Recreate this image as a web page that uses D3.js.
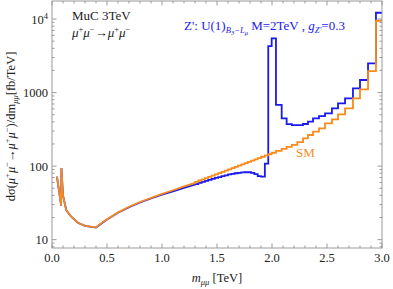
<!DOCTYPE html>
<html>
<head>
<meta charset="utf-8">
<script src="https://cdn.jsdelivr.net/npm/d3@7"></script>
<style>
  html, body { margin: 0; padding: 0; background: #fff; }
  svg { display: block; font-family: "Liberation Serif", "DejaVu Serif", serif; }
</style>
</head>
<body>
<svg id="chart" width="393" height="289"></svg>
<script>
// smooth low-mass part [TeV], dσ/dm [fb/TeV]
const smoothM = [0.045, 0.083, 0.086, 0.1, 0.13, 0.175, 0.235, 0.3, 0.4, 0.45, 0.5, 0.6, 0.7, 0.8, 0.9, 1.0, 1.1, 1.2, 1.3];
const smSmooth = [72, 29, 94, 40, 25, 20.5, 17, 15.4, 14.7, 16.8, 19, 23.5, 28, 32.5, 37, 42, 47, 53, 59];
const zpSmooth = [72, 29, 94, 40, 25, 20.5, 17, 15.4, 14.6, 16.6, 18.8, 23.2, 27.6, 32, 36.3, 41, 45.5, 50.5, 56];

// histogram bin edges (stepped part)
const binEdges = [1.30, 1.33, 1.36, 1.39, 1.42, 1.45, 1.48, 1.51, 1.54, 1.57, 1.60, 1.63, 1.66, 1.69,
  1.72, 1.75, 1.78, 1.81, 1.84, 1.87, 1.90, 1.935, 1.966, 1.997, 2.036, 2.088, 2.133, 2.18, 2.23,
  2.282, 2.327, 2.373, 2.427, 2.482, 2.545, 2.60, 2.664, 2.736, 2.80, 2.873, 2.945, 3.0];
const smBins = [61.2, 63.7, 66.2, 68.8, 71.6, 74.4, 77.4, 80.5, 83.7, 87, 90.5, 94, 97.8, 101.7,
  105.8, 110, 114.4, 119, 123.7, 128.6, 134, 140, 145, 152, 161, 172, 183, 195, 212,
  239, 265, 294, 327, 382, 433, 506, 611, 835, 1107, 1963, 9480];
const zpBins = [57, 59, 61, 63, 65, 67, 69, 71, 73, 75, 77, 78.5, 80, 81,
  82, 82.5, 82.5, 81, 78, 73, 72, 108, 4290, 5460, 680, 447, 372, 360, 360,
  374, 402, 447, 480, 522, 611, 715, 835, 1143, 1483, 2500, 12180];

const xTicks = [0, 0.5, 1, 1.5, 2, 2.5, 3];
const yTicks = [10, 100, 1000, 10000];

const W = 393, H = 289;
const margin = { left: 52, right: 11, top: 1, bottom: 41 };
const BLUE = '#1a1af0';
const ORANGE = '#f98b1c';
const FRAME = '#9a9a9a';

const svg = d3.select('#chart');
const x = d3.scaleLinear().domain([0, 3]).range([margin.left, W - margin.right]);
const y = d3.scaleLog().domain([7.7, 17600]).range([H - margin.bottom, margin.top]);

function buildPath(ms, vs, edges, bins) {
  const pts = ms.map((m, i) => [m, vs[i]]);
  bins.forEach((v, i) => {
    pts.push([edges[i], v]);
    pts.push([edges[i + 1], v]);
  });
  return pts;
}

const line = d3.line().x((d) => x(d[0])).y((d) => y(d[1]));

svg.append('path')
  .datum(buildPath(smoothM, zpSmooth, binEdges, zpBins))
  .attr('d', line)
  .attr('fill', 'none')
  .attr('stroke', BLUE)
  .attr('stroke-width', 1.8)
  .attr('stroke-linejoin', 'miter');

svg.append('path')
  .datum(buildPath(smoothM, smSmooth, binEdges, smBins))
  .attr('d', line)
  .attr('fill', 'none')
  .attr('stroke', ORANGE)
  .attr('stroke-width', 1.8)
  .attr('stroke-linejoin', 'miter');

// frame
const x0 = x(0), x1 = x(3), yb = y.range()[0], yt = y.range()[1];
svg.append('rect')
  .attr('x', x0).attr('y', yt)
  .attr('width', x1 - x0).attr('height', yb - yt)
  .attr('fill', 'none').attr('stroke', FRAME).attr('stroke-width', 1);

const ticks = svg.append('g').attr('stroke', FRAME).attr('stroke-width', 1);
d3.range(0, 31).forEach((k) => {
  const v = k / 10;
  const len = k % 5 === 0 ? 4.5 : 2.5;
  ticks.append('line').attr('x1', x(v)).attr('x2', x(v)).attr('y1', yb).attr('y2', yb - len);
  ticks.append('line').attr('x1', x(v)).attr('x2', x(v)).attr('y1', yt).attr('y2', yt + len);
});
[1, 10, 100, 1000, 10000].forEach((dec) => {
  for (let k = 1; k <= 9; k++) {
    const v = dec * k;
    if (v < y.domain()[0] || v > y.domain()[1]) continue;
    const len = k === 1 ? 4.5 : 2.5;
    ticks.append('line').attr('x1', x0).attr('x2', x0 + len).attr('y1', y(v)).attr('y2', y(v));
    ticks.append('line').attr('x1', x1).attr('x2', x1 - len).attr('y1', y(v)).attr('y2', y(v));
  }
});

// tick labels
svg.append('g').selectAll('text').data(xTicks).join('text')
  .attr('x', (d) => x(d)).attr('y', yb + 14)
  .attr('text-anchor', 'middle').attr('font-size', 12.5).attr('fill', '#222')
  .text((d) => d.toFixed(1));

const yl = svg.append('g').selectAll('text').data(yTicks).join('text')
  .attr('x', x0 - 4).attr('y', (d) => y(d) + 4.5)
  .attr('text-anchor', 'end').attr('font-size', 12.5).attr('fill', '#222');
yl.each(function (d) {
  const t = d3.select(this);
  if (d === 10000) {
    t.append('tspan').text('10');
    t.append('tspan').attr('font-size', 8.5).attr('dy', -5).text('4');
  } else {
    t.text(String(d));
  }
});

// axis titles
const xl = svg.append('text').attr('x', 217).attr('y', 282)
  .attr('text-anchor', 'middle').attr('font-size', 12.5).attr('fill', '#222');
xl.append('tspan').attr('font-style', 'italic').text('m');
xl.append('tspan').attr('font-size', 8.5).attr('font-style', 'italic').attr('dy', 3).text('μμ');
xl.append('tspan').attr('dy', -3).text(' [TeV]');

const ylab = svg.append('text')
  .attr('transform', 'translate(15,' + ((yt + yb) / 2 + 2) + ') rotate(-90)')
  .attr('text-anchor', 'middle').attr('font-size', 12.5).attr('fill', '#222');
ylab.append('tspan').text('dσ(');
ylab.append('tspan').attr('font-style', 'italic').text('μ');
ylab.append('tspan').attr('font-size', 8.5).attr('dy', -5).text('+');
ylab.append('tspan').attr('font-style', 'italic').attr('dy', 5).text('μ');
ylab.append('tspan').attr('font-size', 8.5).attr('dy', -5).text('−');
ylab.append('tspan').attr('dy', 5).text('→');
ylab.append('tspan').attr('font-style', 'italic').text('μ');
ylab.append('tspan').attr('font-size', 8.5).attr('dy', -5).text('+');
ylab.append('tspan').attr('font-style', 'italic').attr('dy', 5).text('μ');
ylab.append('tspan').attr('font-size', 8.5).attr('dy', -5).text('−');
ylab.append('tspan').attr('dy', 5).text(')/dm');
ylab.append('tspan').attr('font-size', 8.5).attr('font-style', 'italic').attr('dy', 3).text('μμ');
ylab.append('tspan').attr('dy', -3).text('[fb/TeV]');

// annotations
svg.append('text').attr('x', 72).attr('y', 20).attr('font-size', 13).attr('fill', '#222').text('MuC 3TeV');
const proc = svg.append('text').attr('x', 72).attr('y', 37).attr('font-size', 13).attr('fill', '#222');
proc.append('tspan').attr('font-style', 'italic').text('μ');
proc.append('tspan').attr('font-size', 8.5).attr('dy', -5).text('+');
proc.append('tspan').attr('font-style', 'italic').attr('dy', 5).text('μ');
proc.append('tspan').attr('font-size', 8.5).attr('dy', -5).text('−');
proc.append('tspan').attr('dy', 5).text('→');
proc.append('tspan').attr('font-style', 'italic').text('μ');
proc.append('tspan').attr('font-size', 8.5).attr('dy', -5).text('+');
proc.append('tspan').attr('font-style', 'italic').attr('dy', 5).text('μ');
proc.append('tspan').attr('font-size', 8.5).attr('dy', -5).text('−');

const zp = svg.append('text').attr('x', 184).attr('y', 30).attr('font-size', 13).attr('fill', BLUE);
zp.append('tspan').text("Z': U(1)");
zp.append('tspan').attr('font-size', 8.5).attr('font-style', 'italic').attr('dy', 3).text('B');
zp.append('tspan').attr('font-size', 6.5).attr('font-style', 'italic').attr('dy', 1.5).text('3');
zp.append('tspan').attr('font-size', 8.5).attr('font-style', 'italic').attr('dy', -1.5).text('−L');
zp.append('tspan').attr('font-size', 6.5).attr('font-style', 'italic').attr('dy', 1.5).text('μ');
zp.append('tspan').attr('dy', -4.5).text(' M=2TeV , ');
zp.append('tspan').attr('font-style', 'italic').text('g');
zp.append('tspan').attr('font-size', 8.5).attr('font-style', 'italic').attr('dy', 3).text("Z'");
zp.append('tspan').attr('dy', -3).text('=0.3');

svg.append('text').attr('x', 296).attr('y', 157).attr('font-size', 13).attr('fill', ORANGE).text('SM');
</script>
</body>
</html>
